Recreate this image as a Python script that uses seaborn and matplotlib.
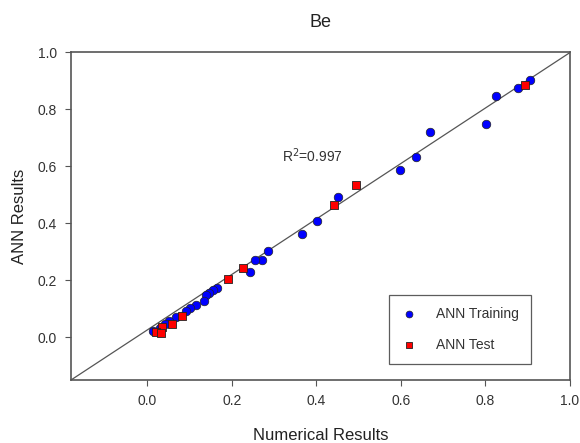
import numpy as np
import pandas as pd
import matplotlib
matplotlib.use("Agg")
import matplotlib.pyplot as plt
import seaborn as sns

train_x = [0.906, 0.877, 0.825, 0.801, 0.670, 0.636, 0.597, 0.452, 0.402, 0.366,
           0.287, 0.272, 0.254, 0.244, 0.165, 0.156, 0.146, 0.140, 0.134, 0.115,
           0.101, 0.093, 0.068, 0.052, 0.042, 0.030, 0.014]
train_y = [0.902, 0.876, 0.846, 0.750, 0.722, 0.634, 0.587, 0.493, 0.410, 0.363,
           0.303, 0.272, 0.272, 0.230, 0.172, 0.166, 0.155, 0.149, 0.129, 0.112,
           0.104, 0.092, 0.070, 0.058, 0.047, 0.032, 0.022]
test_x = [0.893, 0.493, 0.442, 0.227, 0.191, 0.083, 0.058, 0.035, 0.022, 0.034]
test_y = [0.886, 0.534, 0.463, 0.244, 0.205, 0.075, 0.046, 0.037, 0.020, 0.016]

ref_x = [-0.18, 1.0]
ref_y = [-0.15, 1.0]
ticks = [0.0, 0.2, 0.4, 0.6, 0.8, 1.0]
tick_labels = ["0.0", "0.2", "0.4", "0.6", "0.8", "1.0"]

sns.set_style("ticks")
plt.rcParams['font.family'] = ['Liberation Sans', 'DejaVu Sans']

fig = plt.figure(figsize=(5.8, 4.43), dpi=100)
ax = fig.add_axes([0.1224, 0.1422, 0.8604, 0.7393])

ax.plot(ref_x, ref_y, color="#555555", lw=0.9, zorder=1)

train = pd.DataFrame({"x": train_x, "y": train_y})
test = pd.DataFrame({"x": test_x, "y": test_y})
sns.scatterplot(data=train, x="x", y="y", ax=ax, marker="o", s=38, color="#0000FF",
                edgecolor="#222222", linewidth=0.5, label="ANN Training", zorder=3)
sns.scatterplot(data=test, x="x", y="y", ax=ax, marker="s", s=34, color="#FF0000",
                edgecolor="#222222", linewidth=0.6, label="ANN Test", zorder=4)

ax.set_xlim(-0.18, 1.0)
ax.set_ylim(-0.15, 1.0)
ax.set_xticks(ticks)
ax.set_xticklabels(tick_labels)
ax.set_yticks(ticks)
ax.set_yticklabels(tick_labels)
ax.tick_params(direction="out", length=4, width=0.8, color="#555555",
               labelsize=10, labelcolor="#333333", pad=6)
for sp in ax.spines.values():
    sp.set_visible(True)
    sp.set_color("#555555")
    sp.set_linewidth(1.2)

ax.set_xlabel("Numerical Results", fontsize=12, color="#222222", labelpad=14.5)
ax.set_ylabel("ANN Results", fontsize=12, color="#222222", labelpad=8)
ax.set_title("Be", fontsize=13, color="#222222", pad=18)

ax.text(0.32, 0.637, r"R$^2$=0.997", fontsize=10, color="#333333", va="center", ha="left")

leg = ax.legend(loc="upper left", bbox_to_anchor=(0.637, 0.26), frameon=True,
                borderaxespad=0.0,
                fancybox=False, edgecolor="#333333", fontsize=10, labelspacing=1.25,
                borderpad=0.85, handletextpad=1.35, markerscale=0.8, handlelength=1.2)
leg.get_frame().set_linewidth(0.9)
for t in leg.get_texts():
    t.set_color("#333333")

fig.savefig("out.png", dpi=100)
